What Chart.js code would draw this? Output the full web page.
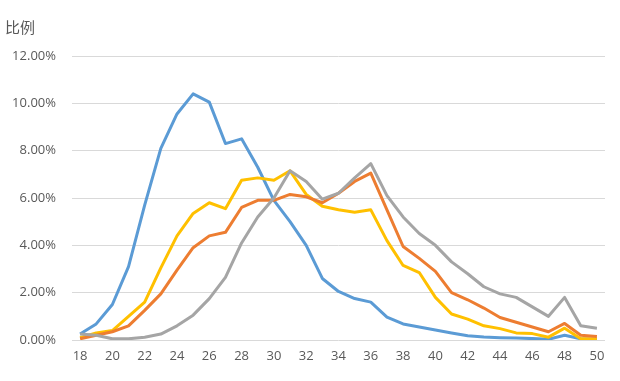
<!DOCTYPE html>
<html>
<head>
<meta charset="utf-8">
<script src="https://cdn.jsdelivr.net/npm/chart.js@4/dist/chart.umd.min.js"></script>
<style>
html,body{margin:0;padding:0;background:#fff;}
#wrap{width:620px;height:381px;position:relative;}
</style>
</head>
<body>
<div id="wrap"><canvas id="c" width="620" height="381"></canvas></div>
<script>
const categories = [18,19,20,21,22,23,24,25,26,27,28,29,30,31,32,33,34,35,36,37,38,39,40,41,42,43,44,45,46,47,48,49,50];
const yTickValues = [0,2,4,6,8,10,12];
const axisTitle = "比例";
const seriesBlue   = [0.25,0.68,1.5,3.1,5.7,8.1,9.55,10.4,10.05,8.3,8.5,7.3,5.9,5.0,4.0,2.6,2.05,1.75,1.6,0.97,0.68,0.55,0.42,0.3,0.18,0.13,0.1,0.08,0.06,0.03,0.2,0.05,0.02];
const seriesOrange = [0.05,0.2,0.35,0.6,1.25,1.95,2.95,3.9,4.4,4.55,5.6,5.9,5.9,6.15,6.05,5.8,6.2,6.7,7.05,5.5,3.95,3.45,2.9,2.0,1.7,1.35,0.95,0.75,0.55,0.35,0.7,0.2,0.15];
const seriesGray   = [0.25,0.2,0.05,0.05,0.12,0.25,0.6,1.05,1.75,2.65,4.1,5.2,6.0,7.15,6.7,5.95,6.2,6.85,7.45,6.1,5.2,4.5,4.0,3.3,2.8,2.25,1.95,1.8,1.4,1.0,1.8,0.6,0.5];
const seriesYellow = [0.1,0.3,0.4,1.0,1.6,3.05,4.4,5.35,5.8,5.55,6.75,6.85,6.75,7.15,6.15,5.65,5.5,5.4,5.5,4.2,3.15,2.85,1.8,1.1,0.88,0.6,0.48,0.3,0.27,0.12,0.5,0.05,0.05];

const mk = (data, color) => ({data, borderColor: color, backgroundColor: color, borderWidth: 3, pointRadius: 0, tension: 0, fill: false, borderJoinStyle: 'round'});

new Chart(document.getElementById('c'), {
  type: 'line',
  data: {
    labels: categories,
    datasets: [
      mk(seriesGray, '#A5A5A5'),
      mk(seriesOrange, '#ED7D31'),
      mk(seriesYellow, '#FFC000'),
      mk(seriesBlue, '#5B9BD5')
    ]
  },
  options: {
    responsive: false,
    animation: false,
    layout: {padding: {left: 5, right: 15, top: 0, bottom: 0}},
    plugins: {
      legend: {display: false},
      tooltip: {enabled: false},
      title: {
        display: true, text: axisTitle, align: 'start', color: '#595959',
        font: {family: "'Noto Sans CJK SC'", size: 15, weight: 'normal', lineHeight: 1.2},
        padding: {top: 18, bottom: 20}
      }
    },
    scales: {
      x: {
        offset: true,
        grid: {display: false, drawTicks: false},
        border: {display: false},
        ticks: {
          autoSkip: false, maxRotation: 0, padding: 8, color: '#595959',
          font: {family: "'Open Sans'", size: 13},
          callback: function(v, i) { const c = categories[i]; return c % 2 === 0 ? String(c) : ''; }
        },
        afterFit: s => { s.height = 41; }
      },
      y: {
        min: 0, max: 12,
        afterBuildTicks: s => { s.ticks = yTickValues.map(v => ({value: v})); },
        grid: {color: '#D9D9D9', lineWidth: 1, drawTicks: false},
        border: {display: false},
        ticks: {
          padding: 16, color: '#595959',
          font: {family: "'Open Sans'", size: 13},
          callback: v => v.toFixed(2) + '%'
        },
        afterFit: s => { s.width = 67; }
      }
    }
  }
});
</script>
</body>
</html>
